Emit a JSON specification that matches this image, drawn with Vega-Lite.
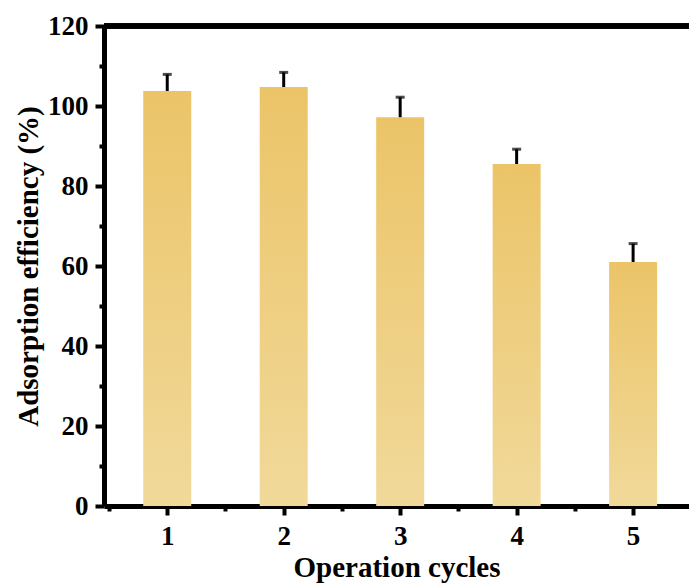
{
  "$schema": "https://vega.github.io/schema/vega-lite/v6.json",
  "autosize": "none",
  "width": 585,
  "height": 480,
  "padding": {"left": 104, "top": 26, "right": 0, "bottom": 79},
  "background": "white",
  "config": {
    "view": {"stroke": null},
    "font": "Liberation Serif",
    "axis": {"grid": false, "domainColor": "black", "tickColor": "black", "labelColor": "black", "titleColor": "black", "labelFont": "Liberation Serif", "titleFont": "Liberation Serif", "labelFontWeight": "bold", "titleFontWeight": "bold", "labelFontSize": 27, "titleFontSize": 29}
  },
  "data": {"values": [
    {"cycle": 1, "value": 103.75, "upper": 107.9},
    {"cycle": 2, "value": 104.75, "upper": 108.4},
    {"cycle": 3, "value": 97.2, "upper": 102.2},
    {"cycle": 4, "value": 85.5, "upper": 89.2},
    {"cycle": 5, "value": 61.0, "upper": 65.6}
  ]},
  "resolve": {"axis": {"x": "independent", "y": "independent"}},
  "layer": [
    {
      "mark": {"type": "point", "opacity": 0},
      "encoding": {
        "x": {"field": "cycle", "type": "quantitative", "scale": {"domain": [0.5, 5.437], "nice": false, "zero": false},
          "axis": {"orient": "bottom", "title": null, "labels": false, "domain": false, "values": [0.5, 1.5, 2.5, 3.5, 4.5], "tickWidth": 4, "tickSize": 5}},
        "y": {"field": "value", "type": "quantitative", "scale": {"domain": [0, 120], "nice": false},
          "axis": {"orient": "left", "title": null, "labels": false, "domain": false, "values": [10, 30, 50, 70, 90, 110], "tickWidth": 4, "tickSize": 5}}
      }
    },
    {
      "mark": {"type": "bar", "width": 48, "color": {"gradient": "linear", "x1": 0, "y1": 0, "x2": 0, "y2": 1, "stops": [{"offset": 0, "color": "#EBC468"}, {"offset": 1, "color": "#F1D99A"}]}},
      "encoding": {
        "x": {"field": "cycle", "type": "quantitative",
          "axis": {"orient": "bottom", "title": "Operation cycles", "values": [1, 2, 3, 4, 5], "format": "d", "labelOverlap": false, "domainWidth": 5, "tickWidth": 4, "tickSize": 9, "labelPadding": 8, "titlePadding": 4, "labelFlush": false}},
        "y": {"field": "value", "type": "quantitative",
          "axis": {"orient": "left", "title": "Adsorption efficiency (%)", "values": [0, 20, 40, 60, 80, 100, 120], "format": "d", "labelOverlap": false, "domainWidth": 5, "tickWidth": 4, "tickSize": 9, "labelPadding": 7, "titlePadding": 4, "labelFlush": false}}
      }
    },
    {
      "mark": {"type": "rule", "color": "black", "strokeWidth": 3},
      "encoding": {
        "x": {"field": "cycle", "type": "quantitative", "axis": null},
        "y": {"field": "value", "type": "quantitative", "axis": null},
        "y2": {"field": "upper"}
      }
    },
    {
      "mark": {"type": "tick", "orient": "horizontal", "color": "black", "size": 9, "thickness": 3},
      "encoding": {
        "x": {"field": "cycle", "type": "quantitative", "axis": null},
        "y": {"field": "upper", "type": "quantitative", "axis": null}
      }
    },
    {
      "mark": {"type": "rule", "color": "black", "strokeWidth": 5},
      "encoding": {"y": {"datum": 120, "axis": null}}
    }
  ]
}
